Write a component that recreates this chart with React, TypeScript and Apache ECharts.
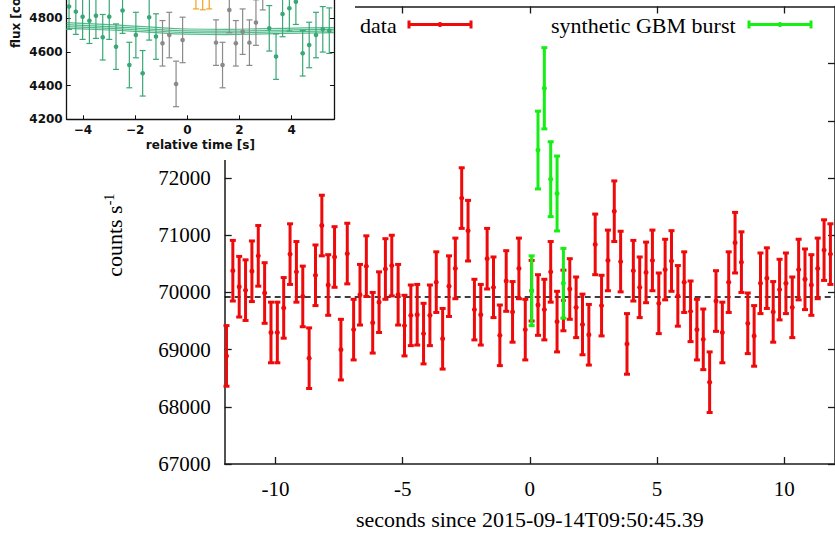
import React, { useEffect, useRef } from "react";
import * as echarts from "echarts";

// ---------- main panel data ----------
const BIN_START = -11.93; // centre of first 0.25 s bin (s)
const BIN_WIDTH = 0.25;
const dataRates = [
  68890, 70380, 70100, 70040, 70370, 70640, 69990, 69300, 69300, 69730,
  70670, 70360, 69930, 68850, 70300, 71170, 70130, 70620, 69000, 70680,
  69350, 69960, 70460, 69470, 69830, 70410, 70470, 69960, 69420, 69600,
  69610, 69280, 69600, 70180, 69190, 70110, 70420, 71650, 71080, 69700,
  69610, 70590, 70090, 69250, 70200, 69660, 70420, 69350, 70030, 69780,
  69700, 70360, 69490, 69860, 70060, 69740, 69440, 69260, 70840, 69770,
  70560, 71420, 70540, 69100, 70380, 70090, 70350, 70560, 69810, 70400,
  70550, 69940, 70180, 69670, 69350, 69180, 68430, 69850, 69300, 70180,
  70870, 70530, 69460, 69240, 70160, 70250, 69660, 70050, 70160, 69740,
  70400, 70230, 70130, 70420, 70740, 70670,
];
const DATA_ERR = 530;
const burstSlots = [48, 49, 50, 51, 52, 53];
const burstRates = [70030, 72490, 73570, 71980, 71730, 70160];
const burstErrs = [610, 680, 710, 655, 655, 610];
const baselineRate = 69920;
const xTickValues = [-10, -5, 0, 5, 10];
const yTickValues = [67000, 68000, 69000, 70000, 71000, 72000, 73000, 74000];
const yLabelValues = [67000, 68000, 69000, 70000, 71000, 72000];

// ---------- inset data ----------
const insetGreenT = [
  -4.53, -4.27, -4.01, -3.75, -3.5, -3.24, -2.99, -2.73, -2.48, -2.22, -1.97,
  -1.71, -1.46, -1.2, 3.14, 3.4, 3.65, 3.91, 4.16, 4.42, 4.67, 4.93, 5.19, 5.44,
];
const insetGreenV = [
  4869, 4839, 4809, 4785, 4815, 4687, 4809, 4631, 4845, 4522, 4700, 4473, 4805,
  4691, 4740, 4572, 4825, 4859, 4898, 4592, 4641, 4700, 4734, 4726,
];
const insetGrayT = [-0.95, -0.69, -0.43, -0.18, 1.1, 1.35, 1.61, 1.86, 2.12, 2.38, 2.63, 2.89];
const insetGrayV = [4651, 4700, 4410, 4671, 4655, 4522, 4849, 4651, 4720, 4655, 4774, 4984];
const insetOrangeT = [0.33, 0.59, 0.84];
const insetOrangeV = [4990, 4985, 4990];
const INSET_ERR = 135;
const bandT = [-4.62, -3, -1.5, 0, 1.5, 3, 4.5, 5.62];
const band1 = [4774, 4762, 4748, 4736, 4734, 4738, 4742, 4744];
const band2 = [4762, 4750, 4737, 4725, 4723, 4727, 4732, 4734];
const band3 = [4750, 4740, 4727, 4715, 4713, 4717, 4722, 4724];
const band4 = [4740, 4730, 4717, 4705, 4703, 4707, 4712, 4714];
const insetXTicks = [-4, -2, 0, 2, 4];
const insetYTicks = [4200, 4400, 4600, 4800];

const RED = "#ee0a0a";
const GREEN = "#16ee16";
const SERIF = "'Liberation Serif', 'Times New Roman', serif";
const SANS = "'DejaVu Sans', sans-serif";
const INK = "#1a1a1a";
const IN_GREEN = "#3aa776";
const IN_GRAY = "#8a8a8a";
const IN_ORANGE = "#f2a31f";

const errorBarItem = (color: string, lw: number, cap: number, dot: number) =>
  (params: any, api: any) => {
    const x = api.value(0);
    const y = api.value(1);
    const e = api.value(2);
    const pTop = api.coord([x, y + e]);
    const pBot = api.coord([x, y - e]);
    const pMid = api.coord([x, y]);
    const st = { stroke: color, lineWidth: lw, fill: null };
    return {
      type: "group",
      children: [
        { type: "line", shape: { x1: pTop[0], y1: pTop[1], x2: pBot[0], y2: pBot[1] }, style: st },
        { type: "line", shape: { x1: pTop[0] - cap, y1: pTop[1], x2: pTop[0] + cap, y2: pTop[1] }, style: st },
        { type: "line", shape: { x1: pBot[0] - cap, y1: pBot[1], x2: pBot[0] + cap, y2: pBot[1] }, style: st },
        { type: "circle", shape: { cx: pMid[0], cy: pMid[1], r: dot }, style: { fill: color } },
      ],
    };
  };

const minusFmt = (v: number) => (v < 0 ? "\u2212" + Math.abs(v) : String(v));
const plainFmt = (v: number) => String(v);

export default function App() {
  const ref = useRef<HTMLDivElement>(null);
  useEffect(() => {
    if (!ref.current) return;
    const chart = echarts.init(ref.current, undefined, { renderer: "svg" });

    const redData = dataRates.map((v, i) => [BIN_START + i * BIN_WIDTH, v, DATA_ERR]);
    const greenData = burstSlots.map((s, k) => [BIN_START + s * BIN_WIDTH, burstRates[k], burstErrs[k]]);
    const inGreen = insetGreenT.map((t, i) => [t, insetGreenV[i], INSET_ERR]);
    const inGray = insetGrayT.map((t, i) => [t, insetGrayV[i], INSET_ERR]);
    const inOrange = insetOrangeT.map((t, i) => [t, insetOrangeV[i], INSET_ERR]);
    const bandSeries = [band1, band2, band3, band4].map((b) => ({
      type: "line",
      xAxisIndex: 2,
      yAxisIndex: 2,
      data: bandT.map((t, i) => [t, b[i]]),
      smooth: true,
      symbol: "none",
      lineStyle: { color: "#52bb8c", width: 1.2 },
      z: 21,
      silent: true,
    }));

    const mainAxisLine = { show: true, onZero: false, lineStyle: { color: INK, width: 1.5 } };
    const mainTick = { show: true, inside: true, length: 7, lineStyle: { color: INK, width: 1.3 } };
    const inAxisLine = { show: true, onZero: false, lineStyle: { color: "#111", width: 1.3 } };
    const inTick = { show: true, inside: true, length: 4, lineStyle: { color: "#111", width: 1 } };

    const option: any = {
      animation: false,
      backgroundColor: "#ffffff",
      grid: [
        { left: 224.7, top: 6.5, width: 612.6, height: 460.2 },
        { left: 66.7, top: 0, width: 267.3, height: 119.3 },
      ],
      xAxis: [
        {
          gridIndex: 0, type: "value", min: -12, max: 12, position: "bottom",
          axisLine: mainAxisLine,
          axisTick: { ...mainTick, customValues: xTickValues },
          axisLabel: { customValues: xTickValues, formatter: plainFmt, margin: 14, fontFamily: SERIF, fontSize: 21, color: "#000" },
          splitLine: { show: false },
          name: "seconds since 2015-09-14T09:50:45.39",
          nameLocation: "middle", nameGap: 44,
          nameTextStyle: { fontFamily: SERIF, fontSize: 22, color: "#000" },
        },
        {
          gridIndex: 0, type: "value", min: -12, max: 12, position: "top",
          axisLine: mainAxisLine,
          axisTick: { ...mainTick, customValues: xTickValues },
          axisLabel: { show: false },
          splitLine: { show: false },
        },
        {
          gridIndex: 1, type: "value", min: -4.62, max: 5.62, position: "bottom", z: 20,
          axisLine: inAxisLine,
          axisTick: { ...inTick, customValues: insetXTicks },
          axisLabel: { customValues: insetXTicks, formatter: minusFmt, margin: 5, fontFamily: SANS, fontWeight: "bold", fontSize: 12, color: "#111" },
          splitLine: { show: false },
          name: "relative time [s]", nameLocation: "middle", nameGap: 20,
          nameTextStyle: { fontFamily: SANS, fontWeight: "bold", fontSize: 12, color: "#111" },
        },
      ],
      yAxis: [
        {
          gridIndex: 0, type: "value", min: 67000, max: 75000, interval: 1000, position: "left",
          axisLine: mainAxisLine,
          axisTick: { ...mainTick, customValues: yTickValues },
          axisLabel: { customValues: yLabelValues, formatter: plainFmt, margin: 14, fontFamily: SERIF, fontSize: 21, color: "#000" },
          splitLine: { show: false },
          name: "counts s{sup|-1}", nameLocation: "middle", nameRotate: 90, nameGap: 98,
          nameTextStyle: {
            fontFamily: SERIF, fontSize: 22, color: "#000",
            rich: { sup: { fontFamily: SERIF, fontSize: 14, color: "#000", verticalAlign: "top", padding: [0, 0, 10, 0] } },
          },
        },
        {
          gridIndex: 0, type: "value", min: 67000, max: 75000, interval: 1000, position: "right",
          axisLine: mainAxisLine,
          axisTick: { ...mainTick, customValues: yTickValues },
          axisLabel: { show: false },
          splitLine: { show: false },
        },
        {
          gridIndex: 1, type: "value", min: 4200, max: 4908, position: "left", z: 20,
          axisLine: inAxisLine,
          axisTick: { ...inTick, customValues: insetYTicks },
          axisLabel: { customValues: insetYTicks, formatter: plainFmt, margin: 4, fontFamily: SANS, fontWeight: "bold", fontSize: 12, color: "#111" },
          splitLine: { show: false },
        },
        {
          gridIndex: 1, type: "value", min: 4200, max: 4908, position: "right", z: 20,
          axisLine: inAxisLine,
          axisTick: { ...inTick, customValues: insetYTicks },
          axisLabel: { show: false },
          splitLine: { show: false },
        },
      ],
      series: [
        {
          type: "line", xAxisIndex: 0, yAxisIndex: 0,
          data: [[-12, baselineRate], [12, baselineRate]],
          symbol: "none", silent: true,
          lineStyle: { color: "#000", width: 1.5, type: [6, 4] },
          z: 1,
        },
        {
          type: "custom", name: "data", xAxisIndex: 0, yAxisIndex: 0,
          data: redData, encode: { x: 0, y: 1 },
          renderItem: errorBarItem(RED, 3, 3, 2.5), z: 2,
        },
        {
          type: "custom", name: "synthetic GBM burst", xAxisIndex: 0, yAxisIndex: 0,
          data: greenData, encode: { x: 0, y: 1 },
          renderItem: errorBarItem(GREEN, 3, 3, 2.5), z: 3,
        },
        ...bandSeries,
        {
          type: "custom", xAxisIndex: 2, yAxisIndex: 2, data: inGreen, encode: { x: 0, y: 1 },
          renderItem: errorBarItem(IN_GREEN, 1.2, 3, 2.3), z: 22,
        },
        {
          type: "custom", xAxisIndex: 2, yAxisIndex: 2, data: inGray, encode: { x: 0, y: 1 },
          renderItem: errorBarItem(IN_GRAY, 1.2, 3, 2.3), z: 22,
        },
        {
          type: "custom", xAxisIndex: 2, yAxisIndex: 2, data: inOrange, encode: { x: 0, y: 1 },
          renderItem: errorBarItem(IN_ORANGE, 1.2, 3, 2.3), z: 22,
        },
      ],
      graphic: [
        { type: "rect", z: 10, silent: true, shape: { x: 0, y: 0, width: 355, height: 160 }, style: { fill: "#ffffff" } },
        {
          type: "text", z: 30, x: 16, y: 48, rotation: Math.PI / 2,
          style: { text: "flux [counts/s]", fontFamily: SANS, fontWeight: "bold", fontSize: 12, fill: "#111", textAlign: "left", textVerticalAlign: "middle" },
        },
        // legend: data
        { type: "text", z: 30, x: 360, y: 25, style: { text: "data", fontFamily: SERIF, fontSize: 22, fill: "#000", textAlign: "left", textVerticalAlign: "middle" } },
        { type: "line", z: 30, shape: { x1: 409, y1: 24.5, x2: 471, y2: 24.5 }, style: { stroke: RED, lineWidth: 3 } },
        { type: "line", z: 30, shape: { x1: 409, y1: 20.5, x2: 409, y2: 28.5 }, style: { stroke: RED, lineWidth: 3 } },
        { type: "line", z: 30, shape: { x1: 471, y1: 20.5, x2: 471, y2: 28.5 }, style: { stroke: RED, lineWidth: 3 } },
        { type: "circle", z: 30, shape: { cx: 440, cy: 24.5, r: 2.5 }, style: { fill: RED } },
        // legend: synthetic burst
        { type: "text", z: 30, x: 551, y: 25, style: { text: "synthetic GBM burst", fontFamily: SERIF, fontSize: 22, fill: "#000", textAlign: "left", textVerticalAlign: "middle" } },
        { type: "line", z: 30, shape: { x1: 749, y1: 24.5, x2: 811, y2: 24.5 }, style: { stroke: GREEN, lineWidth: 3 } },
        { type: "line", z: 30, shape: { x1: 749, y1: 20.5, x2: 749, y2: 28.5 }, style: { stroke: GREEN, lineWidth: 3 } },
        { type: "line", z: 30, shape: { x1: 811, y1: 20.5, x2: 811, y2: 28.5 }, style: { stroke: GREEN, lineWidth: 3 } },
        { type: "circle", z: 30, shape: { cx: 780, cy: 24.5, r: 2.5 }, style: { fill: GREEN } },
      ],
    };
    chart.setOption(option);
    return () => chart.dispose();
  }, []);
  return (
    <div
      ref={ref}
      style={{ position: "absolute", left: 0, top: 0, width: 835, height: 535, background: "#fff" }}
    />
  );
}
